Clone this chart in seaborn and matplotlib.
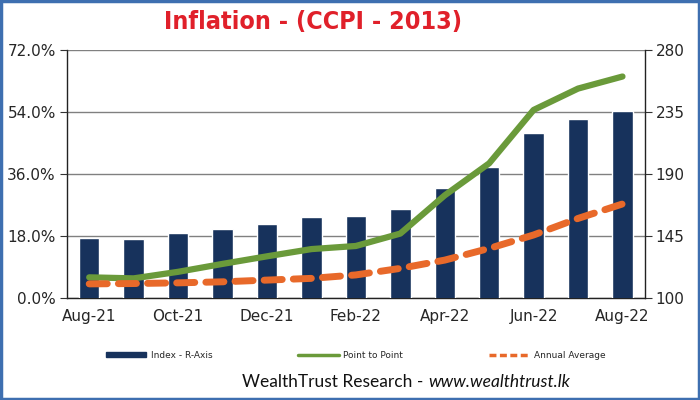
import numpy as np
import pandas as pd
import matplotlib
matplotlib.use("Agg")
import matplotlib.pyplot as plt
import seaborn as sns
from matplotlib.patches import Rectangle
from matplotlib.lines import Line2D
from matplotlib.patches import Patch

months = ["Aug-21", "Sep-21", "Oct-21", "Nov-21", "Dec-21", "Jan-22", "Feb-22",
          "Mar-22", "Apr-22", "May-22", "Jun-22", "Jul-22", "Aug-22"]
index_r_axis = [143.5, 142.8, 147.0, 150.0, 153.7, 158.6, 159.7, 164.4, 179.6, 194.9, 219.5, 229.9, 235.7]
point_to_point = [6.0, 5.7, 7.6, 9.9, 12.1, 14.2, 15.1, 18.7, 29.8, 39.1, 54.6, 60.8, 64.3]
annual_average = [4.1, 4.2, 4.4, 4.7, 5.2, 5.7, 6.7, 8.6, 11.0, 14.4, 18.3, 23.1, 27.3]
left_ticks = [0, 18, 36, 54, 72]
right_ticks = [100, 145, 190, 235, 280]

df = pd.DataFrame({"month": months, "index": index_r_axis,
                   "p2p": point_to_point, "avg": annual_average,
                   "pos": range(len(months))})

sns.set_style("white")
plt.rcParams['font.family'] = ['DejaVu Sans']

navy = "#17325C"
green = "#6A9A3A"
orange = "#E8692A"

fig = plt.figure(figsize=(7, 4), dpi=100)
ax_bar = fig.add_axes([0.0957, 0.255, 0.8253, 0.62])
sns.barplot(data=df, x="month", y="index", color=navy, width=0.46,
            saturation=1, ax=ax_bar, zorder=3)
ax_bar.set_ylim(100, 280)
ax_bar.set_xlim(-0.5, len(months) - 0.5)
ax_bar.grid(axis="y", color="#808080", linewidth=1, zorder=0)
ax_bar.set_axisbelow(True)
ax_bar.set_xlabel("")
ax_bar.set_ylabel("")
ax_bar.set_xticks([i for i in range(0, len(months), 2)])
ax_bar.set_xticklabels([months[i] for i in range(0, len(months), 2)], fontsize=11)
ax_bar.tick_params(axis="x", length=0, pad=8)
ax_bar.set_xticks([i + 1.5 for i in range(0, len(months) - 2, 2)], minor=True)
ax_bar.tick_params(axis="x", which="minor", length=5, direction="out", color="#333333")
for s in ["left", "right", "bottom"]:
    ax_bar.spines[s].set_color("#222222")
    ax_bar.spines[s].set_linewidth(1)
ax_bar.spines["top"].set_visible(False)

ax_line = ax_bar.twinx()
# twinx moves the host ticks to the left; put the index axis back on the right
ax_bar.yaxis.tick_right()
ax_bar.yaxis.set_label_position("right")
ax_bar.set_yticks(right_ticks)
ax_bar.set_yticklabels([str(t) for t in right_ticks], fontsize=11)
ax_bar.tick_params(axis="y", length=5, direction="out", color="#333333", pad=3)

sns.lineplot(data=df, x="pos", y="p2p", color=green, linewidth=4.5, ax=ax_line,
             legend=False)
sns.lineplot(data=df, x="pos", y="avg", color=orange, linewidth=5, ax=ax_line,
             legend=False)
ax_line.lines[1].set_dashes([2.6, 1.6])
ax_line.lines[1].set_dash_capstyle("round")
ax_line.set_ylim(0, 72)
ax_line.set_xlim(-0.5, len(months) - 0.5)
ax_line.yaxis.tick_left()
ax_line.yaxis.set_label_position("left")
ax_line.set_yticks(left_ticks)
ax_line.set_yticklabels([f"{t:.1f}%" for t in left_ticks], fontsize=11)
ax_line.tick_params(axis="y", length=5, direction="out", color="#333333", pad=3)
ax_line.set_xlabel("")
ax_line.set_ylabel("")
for s in ["top", "right", "left", "bottom"]:
    ax_line.spines[s].set_visible(False)

# legend
handles = [Patch(facecolor=navy, edgecolor=navy),
           Line2D([0], [0], color=green, linewidth=2.5),
           Line2D([0], [0], color=orange, linewidth=2.5, linestyle=(0, (2, 1)))]
fig.legend(handles, ["Index - R-Axis", "Point to Point", "Annual Average"],
           loc="center", bbox_to_anchor=(0.508, 0.112), ncol=3, frameon=False,
           fontsize=6.5, handlelength=4.5, handleheight=0.6, columnspacing=9.5,
           handletextpad=0.5)

# title
fig.text(0.447, 0.945, "Inflation - (CCPI - 2013)", color="#E0202A",
         fontsize=18, fontweight="bold", fontstretch="condensed",
         ha="center", va="center", family=["DejaVu Sans"])

# footer
t1 = fig.text(0.346, 0.044, "WealthTrust Research - ", fontsize=12.5,
              ha="left", va="center", family=["Lato", "DejaVu Sans"], color="#111111")
fig.canvas.draw()
bb = t1.get_window_extent()
x2 = bb.x1 / fig.bbox.width
fig.text(x2, 0.044, "www.wealthtrust.lk", fontsize=12.5, style="italic",
         ha="left", va="center", family=["Lato", "DejaVu Sans"], color="#111111")

# frame
fig.patches.append(Rectangle((0.002, 0.003), 0.996, 0.994, transform=fig.transFigure,
                             fill=False, edgecolor="#3E6FB0", linewidth=2.5))

fig.savefig("out.png", dpi=100)
